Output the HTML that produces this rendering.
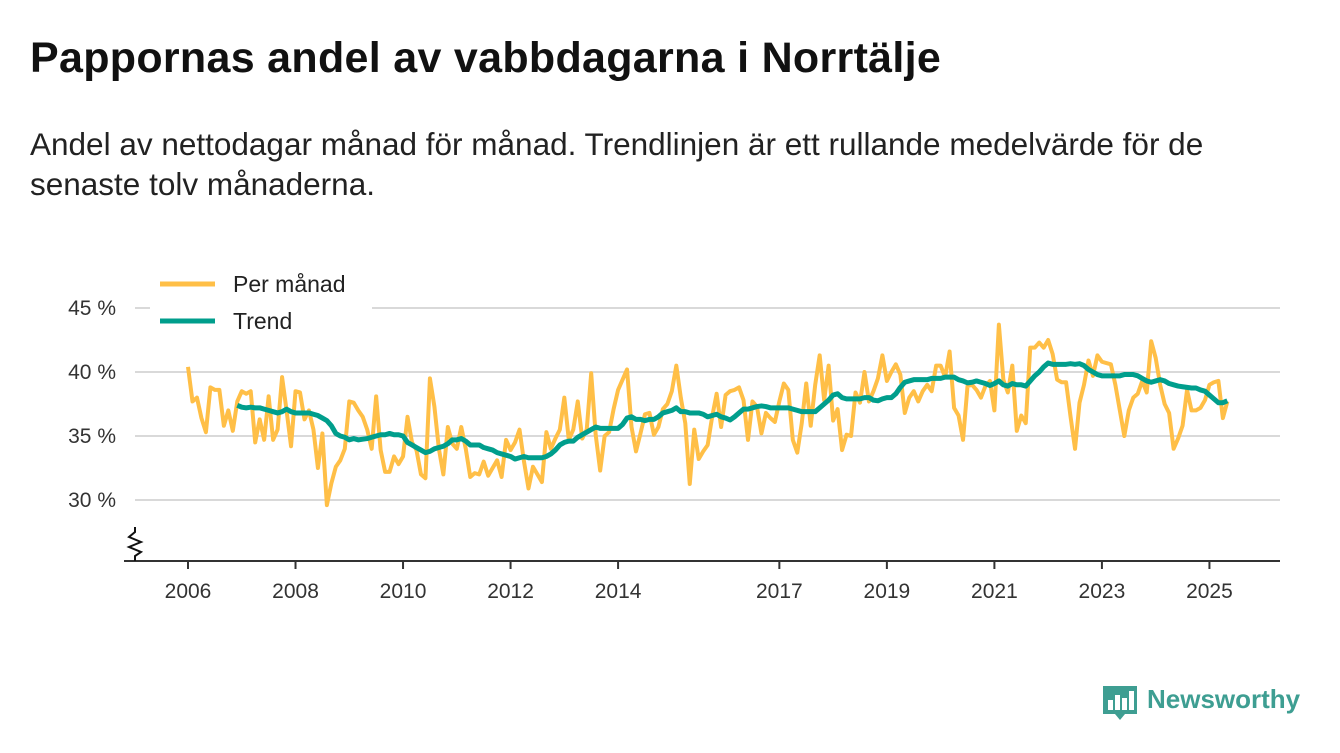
<!DOCTYPE html>
<html><head><meta charset="utf-8">
<style>
body{margin:0;background:#fff;font-family:"Liberation Sans",sans-serif;color:#111;}
#wrap{position:relative;width:1340px;height:753px;overflow:hidden;}
h1{position:absolute;left:30px;top:33px;margin:0;font-size:43px;line-height:50px;font-weight:bold;color:#111;letter-spacing:0.3px;}
#sub{position:absolute;left:30px;top:124px;margin:0;font-size:31.5px;line-height:40px;color:#222;width:1240px;}
svg{position:absolute;left:0;top:0;}
</style></head><body>
<div id="wrap">
<h1>Pappornas andel av vabbdagarna i Norrtälje</h1>
<p id="sub">Andel av nettodagar månad för månad. Trendlinjen är ett rullande medelvärde för de senaste tolv månaderna.</p>
<svg id="chart" width="1340" height="753"></svg>
</div>
<script>
const startYear = 2006;
const monthly = [40.4,37.7,38.0,36.4,35.3,38.8,38.6,38.6,35.8,37.0,35.4,37.7,
38.5,38.3,38.5,34.5,36.3,34.7,38.1,34.7,35.5,39.6,37.0,34.2,
38.5,38.4,36.3,37.0,35.5,32.5,35.2,29.6,31.3,32.6,33.1,34.0,
37.7,37.6,37.0,36.5,35.5,34.0,38.1,33.9,32.2,32.2,33.4,32.8,
33.4,36.5,34.5,33.9,32.0,31.7,39.5,37.3,34.0,32.0,35.7,34.4,
34.0,35.7,34.0,31.8,32.1,32.0,33.0,31.9,32.5,33.1,31.8,34.7,
33.9,34.5,35.5,33.0,30.9,32.6,32.0,31.4,35.3,34.0,34.8,35.5,
38.0,34.7,35.5,37.7,34.8,35.5,39.9,35.1,32.3,35.0,35.3,37.1,
38.6,39.4,40.2,35.7,33.8,35.2,36.7,36.8,35.1,35.7,37.1,37.5,
38.5,40.5,38.0,36.0,31.25,35.5,33.2,33.8,34.3,36.5,38.3,35.7,
38.2,38.5,38.6,38.8,37.8,34.7,37.7,37.3,35.2,36.8,36.4,36.1,
37.7,39.1,38.6,34.7,33.7,36.0,39.1,35.8,39.0,41.3,37.8,40.5,
36.2,37.1,33.9,35.1,35.0,38.4,37.6,40.0,37.7,38.5,39.5,41.3,
39.3,40.0,40.6,39.8,36.8,38.0,38.5,37.7,38.5,39.0,38.5,40.5,
40.5,39.6,41.6,37.2,36.6,34.7,38.9,39.0,38.6,38.0,38.9,39.3,
37.0,43.7,39.4,38.4,40.5,35.4,36.6,36.0,41.9,41.9,42.3,41.9,
42.5,41.4,39.4,39.2,39.2,36.5,34.0,37.6,39.0,40.9,39.7,41.3,
40.8,40.7,40.6,39.0,37.0,35.0,37.0,38.0,38.3,39.3,38.4,42.4,
41.1,39.0,37.5,36.8,34.0,34.8,35.8,38.6,37.0,37.0,37.2,37.8,
39.0,39.2,39.3,36.4,37.7];
const trendStart = 11;
const trend = [37.4,
37.25,37.2,37.25,37.2,37.2,37.1,37.0,36.9,36.8,36.9,37.1,36.9,
36.8,36.8,36.8,36.8,36.7,36.6,36.4,36.2,35.8,35.2,35.0,34.9,
34.7,34.8,34.7,34.75,34.8,34.9,35.0,35.1,35.1,35.2,35.1,35.1,
35.0,34.5,34.3,34.1,33.9,33.7,33.8,34.0,34.1,34.2,34.4,34.7,
34.7,34.8,34.6,34.3,34.3,34.3,34.1,34.0,33.9,33.7,33.6,33.5,
33.4,33.2,33.3,33.4,33.3,33.3,33.3,33.3,33.4,33.6,33.9,34.3,
34.5,34.6,34.6,34.9,35.1,35.3,35.5,35.7,35.6,35.6,35.6,35.6,
35.6,35.9,36.4,36.5,36.3,36.3,36.2,36.3,36.3,36.5,36.8,36.9,
37.0,37.2,36.9,36.9,36.8,36.8,36.8,36.7,36.5,36.6,36.7,36.5,
36.4,36.25,36.5,36.8,37.1,37.1,37.2,37.3,37.35,37.3,37.2,37.2,
37.2,37.2,37.2,37.1,37.0,36.9,36.9,36.9,36.9,37.2,37.5,37.8,
38.2,38.3,38.0,37.9,37.9,37.9,37.9,38.0,38.0,37.8,37.75,37.9,
38.0,38.0,38.3,38.8,39.2,39.3,39.4,39.4,39.4,39.4,39.5,39.5,
39.5,39.6,39.6,39.6,39.4,39.3,39.15,39.2,39.3,39.2,39.1,38.95,
39.1,39.3,39.0,38.9,39.1,39.0,39.0,38.9,39.3,39.7,40.0,40.4,
40.7,40.6,40.6,40.6,40.6,40.65,40.6,40.65,40.5,40.2,40.0,39.8,
39.7,39.7,39.7,39.7,39.7,39.8,39.8,39.8,39.7,39.5,39.3,39.2,
39.3,39.4,39.3,39.1,39.0,38.9,38.85,38.8,38.75,38.75,38.6,38.5,
38.2,37.9,37.6,37.6,37.75];
const yTicks = [30,35,40,45];
const yTickLabels = ["30 %","35 %","40 %","45 %"];
const xTickYears = [2006,2008,2010,2012,2014,2017,2019,2021,2023,2025];

const NS="http://www.w3.org/2000/svg";
const svg=document.getElementById('chart');
function xScale(m){return 188+m*4.48;}
function yScale(v){return 372-(v-40)*12.8;}
function mk(tag,attrs){const e=document.createElementNS(NS,tag);for(const k in attrs)e.setAttribute(k,attrs[k]);svg.appendChild(e);return e;}

yTicks.forEach((t,i)=>{
  const g=mk('line',{x1:135,x2:1280,y1:yScale(t),y2:yScale(t),stroke:'#d9d9d9','stroke-width':2});
  
  
  const tx=mk('text',{x:116,y:yScale(t)+7,'text-anchor':'end','font-size':21,fill:'#333','font-family':'Liberation Sans, sans-serif'});
  tx.textContent=yTickLabels[i];
  
  
});
const ax=mk('line',{x1:124,x2:1280,y1:561,y2:561,stroke:'#333','stroke-width':2});


const brk=mk('path',{d:'M135 527 L135 532 L129 537 L141 542 L129 547 L141 552 L135 556 L135 561',fill:'none',stroke:'#111','stroke-width':2});


xTickYears.forEach(y=>{
  const x=xScale((y-startYear)*12);
  const tk=mk('line',{x1:x,x2:x,y1:561,y2:569,stroke:'#333','stroke-width':2});
  
  
  const tx=mk('text',{x:x,y:598,'text-anchor':'middle','font-size':21,fill:'#333','font-family':'Liberation Sans, sans-serif'});
  tx.textContent=String(y);
  
  
});
const mp=mk('polyline',{points:monthly.map((v,i)=>xScale(i)+','+yScale(v)).join(' '),fill:'none',stroke:'#ffbf47','stroke-width':4,'stroke-linejoin':'round'});


const tp=mk('polyline',{points:trend.map((v,i)=>xScale(i+trendStart)+','+yScale(v)).join(' '),fill:'none',stroke:'#009e8c','stroke-width':5,'stroke-linejoin':'round'});



const lb=mk('rect',{x:150,y:262,width:222,height:80,fill:'#fff'});


[['Per månad','#ffbf47',284,'legend-entry-monthly'],['Trend','#009e8c',321,'legend-entry-trend']].forEach(d=>{
  const l=mk('line',{x1:160,x2:215,y1:d[2],y2:d[2],stroke:d[1],'stroke-width':5});
  
  
  const t=mk('text',{x:233,y:d[2]+8,'font-size':23,fill:'#222','font-family':'Liberation Sans, sans-serif'});
  t.textContent=d[0];
  
  
});
const lg=mk('g',{});


const ic=document.createElementNS(NS,'path');
ic.setAttribute('d','M1103 686 h34 v28 h-12 l-5 6 l-5 -6 h-12 z');
ic.setAttribute('fill','#3e9e92');


lg.appendChild(ic);
[[1108,700,5,10],[1115,695,5,15],[1122,698,5,12],[1129,691,5,19]].forEach(b=>{
  const r=document.createElementNS(NS,'rect');
  r.setAttribute('x',b[0]);r.setAttribute('y',b[1]);r.setAttribute('width',b[2]);r.setAttribute('height',b[3]);r.setAttribute('fill','#fff');
  
  
  lg.appendChild(r);
});
const lt=document.createElementNS(NS,'text');
lt.setAttribute('x',1147);lt.setAttribute('y',708);lt.setAttribute('font-size',26);lt.setAttribute('font-weight','bold');lt.setAttribute('fill','#3e9e92');lt.setAttribute('font-family','Liberation Sans, sans-serif');
lt.textContent='Newsworthy';


lg.appendChild(lt);
svg.appendChild(lg);
</script>
</body></html>
